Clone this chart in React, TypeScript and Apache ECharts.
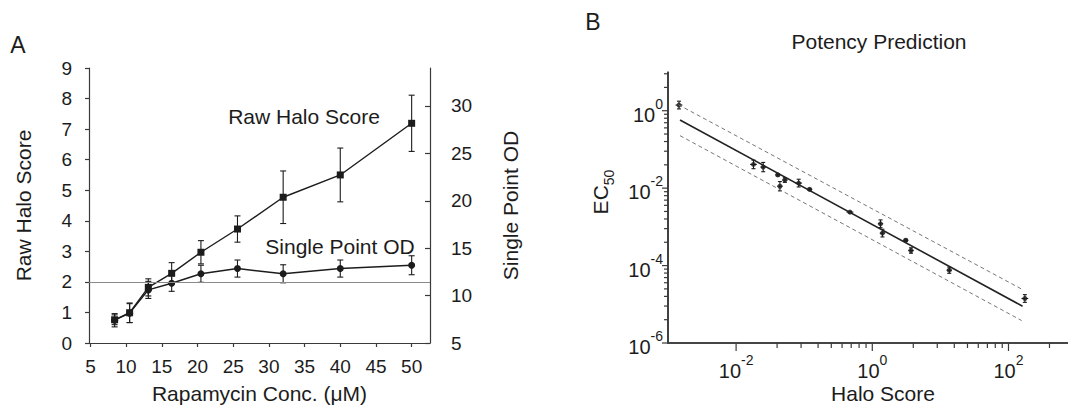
import React, { useEffect, useRef } from "react";
import * as echarts from "echarts";

// ---------- Panel A data ----------
const concentrations = [8.39, 10.49, 13.11, 16.38, 20.48, 25.6, 32, 40, 50];
const rawHaloScore = [0.76, 0.99, 1.82, 2.28, 2.97, 3.73, 4.77, 5.5, 7.19];
const rawHaloErr = [0.16, 0.32, 0.28, 0.35, 0.38, 0.43, 0.86, 0.88, 0.92];
const singlePointOD = [7.4, 8.15, 10.6, 11.3, 12.3, 12.85, 12.3, 12.85, 13.2];
const singlePointODErr = [0.7, 1.0, 0.9, 0.85, 0.9, 0.9, 0.95, 0.9, 1.0];
const haloThreshold = 2;
const xTicksA = [5, 10, 15, 20, 25, 30, 35, 40, 45, 50];
const rightTicksA = [5, 10, 15, 20, 25, 30];

// ---------- Panel B data (real values; plotted on log10 scales) ----------
const haloScore = [0.00145, 0.018, 0.025, 0.041, 0.044, 0.052, 0.083, 0.12, 0.47, 1.32, 1.41, 3.1, 3.7, 13.5, 174];
const ec50 = [1.4, 0.041, 0.035, 0.022, 0.0112, 0.0162, 0.0135, 0.0093, 0.0024, 0.0012, 0.00069, 0.00045, 0.000245, 0.0000759, 0.0000141];
const ec50ErrDecades = [0.1, 0.11, 0.12, 0.03, 0.12, 0.06, 0.1, 0.03, 0.02, 0.1, 0.1, 0.03, 0.07, 0.08, 0.1];
const haloErrDecades = [0.05, 0.05, 0.04, 0.04, 0.04, 0.04, 0.05, 0.04, 0.05, 0.04, 0.04, 0.04, 0.04, 0.04, 0.05];
const fitLine = [[0.0015, 0.575], [161, 0.0000089]];
const upperBand = [[0.00142, 1.43], [161, 0.000024]];
const lowerBand = [[0.0015, 0.227], [156, 0.0000038]];
const majorExpX = [-2, 0, 2];
const majorExpY = [-6, -4, -2, 0];
const minorFactors = [0.04, 0.09, 0.16, 0.25, 0.36, 0.49, 0.64, 0.81];
const minorUppersX = [1, 100, 10000];
const minorUppersY = [100, 1, 0.01, 0.0001];

const FONT = "'Liberation Sans', Arial, Helvetica, sans-serif";
const INK = "#1c1c1c";
const AXIS = "#3a3a3a";

const LX_MIN = -3;
const LX_MAX = 2.874;
const LY_MIN = -6;
const LY_MAX = 1;

const lg = (v: number) => Math.log10(v);

function minorExps(uppers: number[], lo: number, hi: number) {
  const out: number[] = [];
  uppers.forEach((u) => minorFactors.forEach((f) => {
    const e = lg(f * u);
    if (e > lo && e < hi) out.push(e);
  }));
  return out;
}

function expLabel(v: number) {
  return `{b|10}{s|${Math.round(v)}}`;
}

const logRich = {
  b: { fontSize: 20, fontFamily: FONT, color: INK, lineHeight: 28, verticalAlign: "bottom" },
  s: { fontSize: 14, fontFamily: FONT, color: INK, lineHeight: 14, verticalAlign: "top" },
};

const labelBase = { color: INK, fontFamily: FONT, fontSize: 19 };
const nameBase = { color: INK, fontFamily: FONT, fontSize: 21 };

const errA = (params: any, api: any) => {
  const x = api.value(0), y = api.value(1), e = api.value(2);
  const t = api.coord([x, y + e]);
  const b = api.coord([x, y - e]);
  const c = 3;
  const st = { stroke: INK, lineWidth: 1.1 };
  return {
    type: "group",
    children: [
      { type: "line", shape: { x1: t[0], y1: t[1], x2: b[0], y2: b[1] }, style: st },
      { type: "line", shape: { x1: t[0] - c, y1: t[1], x2: t[0] + c, y2: t[1] }, style: st },
      { type: "line", shape: { x1: b[0] - c, y1: b[1], x2: b[0] + c, y2: b[1] }, style: st },
    ],
  };
};

const errB = (params: any, api: any) => {
  const x = api.value(0), y = api.value(1), ey = api.value(2), ex = api.value(3);
  const t = api.coord([x, y + ey]);
  const b = api.coord([x, y - ey]);
  const l = api.coord([x - ex, y]);
  const r = api.coord([x + ex, y]);
  const c = 2;
  const st = { stroke: INK, lineWidth: 1.1 };
  return {
    type: "group",
    children: [
      { type: "line", shape: { x1: t[0], y1: t[1], x2: b[0], y2: b[1] }, style: st },
      { type: "line", shape: { x1: t[0] - c, y1: t[1], x2: t[0] + c, y2: t[1] }, style: st },
      { type: "line", shape: { x1: b[0] - c, y1: b[1], x2: b[0] + c, y2: b[1] }, style: st },
      { type: "line", shape: { x1: l[0], y1: l[1], x2: r[0], y2: r[1] }, style: st },
    ],
  };
};

const tickX = (params: any, api: any) => {
  const p = api.coord([api.value(0), api.value(1)]);
  const len = api.value(2);
  return { type: "group", children: [{ type: "line", shape: { x1: p[0], y1: p[1], x2: p[0], y2: p[1] + len }, style: { stroke: AXIS, lineWidth: 1.2 } }] };
};
const tickY = (params: any, api: any) => {
  const p = api.coord([api.value(0), api.value(1)]);
  const len = api.value(2);
  return { type: "group", children: [{ type: "line", shape: { x1: p[0] - len, y1: p[1], x2: p[0], y2: p[1] }, style: { stroke: AXIS, lineWidth: 1.2 } }] };
};

function optionA(): any {
  return {
    animation: false,
    backgroundColor: "#ffffff",
    grid: { left: 89, top: 68, width: 341, height: 275 },
    xAxis: {
      type: "value", min: 4.8, max: 52.57,
      axisLine: { show: true, onZero: false, lineStyle: { color: AXIS, width: 1.2 } },
      axisTick: { show: true, customValues: xTicksA, length: 4, lineStyle: { color: AXIS, width: 1.2 } },
      axisLabel: { customValues: xTicksA, margin: 14, ...labelBase },
      splitLine: { show: false },
      name: "Rapamycin Conc. (μM)", nameLocation: "middle", nameGap: 40, nameTextStyle: nameBase,
    },
    yAxis: [
      {
        type: "value", min: 0, max: 9, interval: 1,
        axisLine: { show: true, onZero: false, lineStyle: { color: AXIS, width: 1.2 } },
        axisTick: { show: true, length: 4, lineStyle: { color: AXIS, width: 1.2 } },
        axisLabel: { margin: 17, ...labelBase },
        splitLine: { show: false },
        name: "Raw Halo Score", nameLocation: "middle", nameGap: 55, nameRotate: 90, nameTextStyle: nameBase,
      },
      {
        type: "value", min: 5, max: 34, position: "right",
        axisLine: { show: true, onZero: false, lineStyle: { color: AXIS, width: 1.2 } },
        axisTick: { show: true, customValues: rightTicksA, inside: true, length: 5, lineStyle: { color: AXIS, width: 1.2 } },
        axisLabel: { customValues: rightTicksA, margin: 21, ...labelBase },
        splitLine: { show: false },
        name: "Single Point OD", nameLocation: "middle", nameGap: 70, nameRotate: 90, nameTextStyle: nameBase,
      },
    ],
    series: [
      {
        type: "custom", yAxisIndex: 0, renderItem: errA, clip: false, encode: { x: 0, y: 1 },
        data: concentrations.map((c, i) => [c, rawHaloScore[i], rawHaloErr[i]]),
      },
      {
        type: "custom", yAxisIndex: 1, renderItem: errA, clip: false, encode: { x: 0, y: 1 },
        data: concentrations.map((c, i) => [c, singlePointOD[i], singlePointODErr[i]]),
      },
      {
        type: "line", yAxisIndex: 0, clip: false,
        data: concentrations.map((c, i) => [c, rawHaloScore[i]]),
        symbol: "rect", symbolSize: 7, itemStyle: { color: INK },
        lineStyle: { color: INK, width: 1.4 },
        markLine: {
          silent: true, symbol: "none", label: { show: false },
          lineStyle: { color: "#8a8a8a", width: 1, type: "solid" },
          data: [{ yAxis: haloThreshold }],
        },
      },
      {
        type: "line", yAxisIndex: 1, clip: false,
        data: concentrations.map((c, i) => [c, singlePointOD[i]]),
        symbol: "circle", symbolSize: 7, itemStyle: { color: INK },
        lineStyle: { color: INK, width: 1.4 },
      },
    ],
    graphic: [
      { type: "text", x: 18, y: 45, style: { text: "A", fontSize: 23, fontFamily: FONT, fill: INK, align: "center", verticalAlign: "middle" } },
      { type: "text", x: 304, y: 116, style: { text: "Raw Halo Score", fontSize: 21, fontFamily: FONT, fill: INK, align: "center", verticalAlign: "middle" } },
      { type: "text", x: 340, y: 246, style: { text: "Single Point OD", fontSize: 21, fontFamily: FONT, fill: INK, align: "center", verticalAlign: "middle" } },
    ],
  };
}

function optionB(): any {
  const xTickData = [
    ...majorExpX.map((e) => [e, LY_MIN, 8]),
    ...minorExps(minorUppersX, LX_MIN, LX_MAX).map((e) => [e, LY_MIN, 5]),
  ];
  const yTickData = [
    ...majorExpY.map((e) => [LX_MIN, e, 6]),
    ...minorExps(minorUppersY, LY_MIN, LY_MAX).map((e) => [LX_MIN, e, 4]),
  ];
  return {
    animation: false,
    backgroundColor: "#ffffff",
    grid: { left: 108, top: 72, width: 400, height: 271 },
    xAxis: {
      type: "value", min: LX_MIN, max: LX_MAX,
      axisLine: { show: true, onZero: false, lineStyle: { color: AXIS, width: 1.6 } },
      axisTick: { show: false },
      axisLabel: { customValues: majorExpX, margin: 10, formatter: expLabel, rich: logRich, ...labelBase },
      splitLine: { show: false },
    },
    yAxis: {
      type: "value", min: LY_MIN, max: LY_MAX,
      axisLine: { show: true, onZero: false, lineStyle: { color: AXIS, width: 1.6 } },
      axisTick: { show: false },
      axisLabel: { customValues: majorExpY, margin: 5, formatter: expLabel, rich: logRich, ...labelBase },
      splitLine: { show: false },
    },
    series: [
      {
        type: "line", clip: false, symbol: "none", silent: true,
        data: [[LX_MIN, LY_MAX], [LX_MIN, LY_MIN], [LX_MAX, LY_MIN]],
        lineStyle: { color: AXIS, width: 1.6 },
      },
      { type: "custom", renderItem: tickX, clip: false, silent: true, encode: { x: 0, y: 1 }, data: xTickData },
      { type: "custom", renderItem: tickY, clip: false, silent: true, encode: { x: 0, y: 1 }, data: yTickData },
      {
        type: "line", clip: false, data: fitLine.map(([x, y]) => [lg(x), lg(y)]), symbol: "none",
        lineStyle: { color: "#222", width: 1.6 },
      },
      {
        type: "line", clip: false, data: upperBand.map(([x, y]) => [lg(x), lg(y)]), symbol: "none",
        lineStyle: { color: "#777", width: 1, type: [4, 3] },
      },
      {
        type: "line", clip: false, data: lowerBand.map(([x, y]) => [lg(x), lg(y)]), symbol: "none",
        lineStyle: { color: "#777", width: 1, type: [4, 3] },
      },
      {
        type: "custom", renderItem: errB, clip: false, encode: { x: 0, y: 1 },
        data: haloScore.map((h, i) => [lg(h), lg(ec50[i]), ec50ErrDecades[i], haloErrDecades[i]]),
      },
      {
        type: "scatter", clip: false,
        data: haloScore.map((h, i) => [lg(h), lg(ec50[i])]),
        symbol: "circle", symbolSize: 5, itemStyle: { color: INK },
      },
    ],
    graphic: [
      { type: "text", x: 33, y: 22, style: { text: "B", fontSize: 23, fontFamily: FONT, fill: INK, align: "center", verticalAlign: "middle" } },
      { type: "text", x: 319, y: 41, style: { text: "Potency Prediction", fontSize: 21, fontFamily: FONT, fill: INK, align: "center", verticalAlign: "middle" } },
      { type: "text", x: 323, y: 393, style: { text: "Halo Score", fontSize: 21, fontFamily: FONT, fill: INK, align: "center", verticalAlign: "middle" } },
      {
        type: "text", x: 43, y: 192, rotation: Math.PI / 2,
        style: {
          text: "{b|EC}{sub|50}", align: "center", verticalAlign: "middle", fill: INK,
          rich: {
            b: { fontSize: 21, fontFamily: FONT, fill: INK, lineHeight: 26, verticalAlign: "top" },
            sub: { fontSize: 14, fontFamily: FONT, fill: INK, lineHeight: 14, verticalAlign: "bottom" },
          },
        },
      },
    ],
  };
}

export default function App() {
  const refA = useRef<HTMLDivElement>(null);
  const refB = useRef<HTMLDivElement>(null);

  useEffect(() => {
    if (!refA.current || !refB.current) return;
    const chartA = echarts.init(refA.current, undefined, { renderer: "svg" });
    const chartB = echarts.init(refB.current, undefined, { renderer: "svg" });
    chartA.setOption(optionA());
    chartB.setOption(optionB());
    return () => {
      chartA.dispose();
      chartB.dispose();
    };
  }, []);

  return (
    <div style={{ position: "absolute", left: 0, top: 0, width: 1068, height: 414, background: "#fff" }}>
      <div ref={refA} style={{ position: "absolute", left: 0, top: 0, width: 560, height: 414 }} />
      <div ref={refB} style={{ position: "absolute", left: 560, top: 0, width: 508, height: 414 }} />
    </div>
  );
}
